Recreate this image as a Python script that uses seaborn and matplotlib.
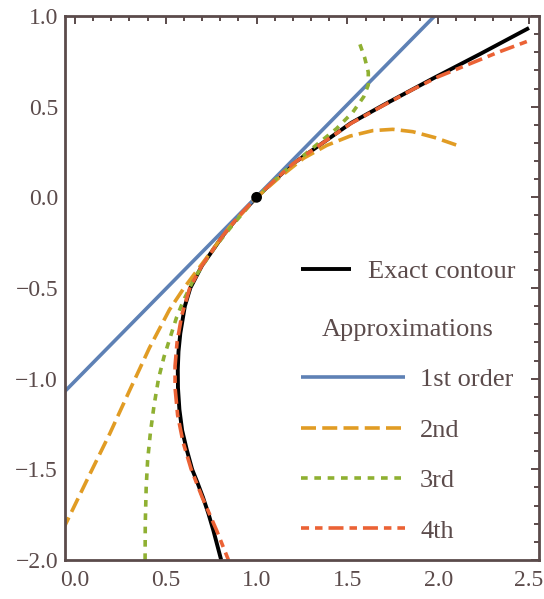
import numpy as np
import pandas as pd
import matplotlib
matplotlib.use("Agg")
import matplotlib.pyplot as plt
import seaborn as sns
from matplotlib.ticker import MultipleLocator

# =====================================================================
# DATA
# =====================================================================
# exact contour, traced from bottom branch up through (1, 0)
exact_x = [0.805, 0.762, 0.735, 0.705, 0.675, 0.645, 0.615, 0.59, 0.575, 0.567,
           0.566, 0.570, 0.580, 0.605, 0.635, 0.70, 0.76, 0.815, 0.905, 1.0,
           1.1, 1.2, 1.364, 1.52, 1.70, 1.97, 2.23, 2.50]
exact_y = [-2.0, -1.837, -1.745, -1.655, -1.575, -1.50, -1.39, -1.285, -1.17, -1.05,
           -0.95, -0.85, -0.75, -0.60, -0.50, -0.375, -0.29, -0.21, -0.10, 0.0,
           0.095, 0.185, 0.30, 0.41, 0.51, 0.655, 0.79, 0.934]

# 1st order (tangent line)
first_x = [-0.10, 2.0]
first_y = [-1.115, 1.02]

# 2nd order
second_x = [-0.07, 0.083, 0.193, 0.303, 0.41, 0.52, 0.60, 0.707, 0.85, 1.0,
            1.12, 1.258, 1.387, 1.515, 1.64, 1.75, 1.86, 1.98, 2.11]
second_y = [-1.84, -1.524, -1.30, -1.06, -0.83, -0.62, -0.50, -0.357, -0.165, 0.0,
            0.105, 0.215, 0.287, 0.338, 0.368, 0.375, 0.362, 0.33, 0.285]

# 3rd order
third_x = [0.386, 0.387, 0.392, 0.40, 0.415, 0.435, 0.46, 0.49, 0.525, 0.56,
           0.597, 0.655, 0.72, 0.771, 0.87, 1.0, 1.148, 1.30, 1.44, 1.53,
           1.59, 1.615, 1.615, 1.595, 1.565]
third_y = [-2.0, -1.8, -1.6, -1.45, -1.3, -1.15, -1.0, -0.88, -0.77, -0.66,
           -0.57, -0.45, -0.35, -0.274, -0.15, 0.0, 0.14, 0.265, 0.379, 0.47,
           0.555, 0.62, 0.69, 0.77, 0.855]

# 4th order
fourth_x = [0.845, 0.78, 0.70, 0.64, 0.595, 0.565, 0.551, 0.551, 0.562, 0.588,
            0.632, 0.70, 0.815, 0.905, 1.0, 1.1, 1.2, 1.364, 1.52, 1.70,
            1.86, 2.0, 2.176, 2.33, 2.49]
fourth_y = [-2.0, -1.837, -1.653, -1.50, -1.35, -1.2, -1.05, -0.93, -0.8, -0.65,
            -0.5, -0.375, -0.21, -0.10, 0.0, 0.095, 0.185, 0.30, 0.408, 0.508,
            0.595, 0.665, 0.737, 0.80, 0.86]

point_x = [1.0]
point_y = [0.0]

order_labels = ["1st order", "2nd", "3rd", "4th"]
x_ticks = [0.0, 0.5, 1.0, 1.5, 2.0, 2.5]
y_ticks = [-2.0, -1.5, -1.0, -0.5, 0.0, 0.5, 1.0]

# =====================================================================
# STYLE
# =====================================================================
sns.set_style("white")
frame_col = "#5b4b4b"
plt.rcParams["font.family"] = ["Liberation Serif", "DejaVu Serif"]
plt.rcParams["lines.scale_dashes"] = False
fs = 17      # tick labels
lfs = 19     # legend text

colors = ["#5e81b5", "#e19c24", "#8fb032", "#eb6235"]
styles = ["-", (0, (10.8, 4.5)), (0, (4.8, 4.8)), (5, (10.8, 4.3, 5.4, 4.3))]
lw = 2.6

fig = plt.figure(figsize=(5.44, 5.99), dpi=100)
ax = fig.add_axes([65 / 544, 39 / 599, 474 / 544, 544 / 599])

# exact contour first, approximations on top
sns.lineplot(x=exact_x, y=exact_y, ax=ax, sort=False, estimator=None,
             color="black", lw=2.8, solid_capstyle="butt")
exact_line = ax.lines[-1]

series = [(first_x, first_y), (second_x, second_y), (third_x, third_y), (fourth_x, fourth_y)]
approx_lines = []
for (sx, sy), c, ls in zip(series, colors, styles):
    sns.lineplot(x=sx, y=sy, ax=ax, sort=False, estimator=None,
                 color=c, lw=lw, linestyle=ls, solid_capstyle="butt")
    approx_lines.append(ax.lines[-1])

sns.scatterplot(x=point_x, y=point_y, ax=ax, color="black", s=60,
                edgecolor="none", zorder=5)

ax.set_xlim(-0.055, 2.555)
ax.set_ylim(-2.0, 1.0)
ax.set_xticks(x_ticks)
ax.set_yticks(y_ticks)
ax.set_xticklabels([f"{v:.1f}".replace("-", "\u2212") for v in x_ticks])
ax.set_yticklabels([f"{v:.1f}".replace("-", "\u2212") for v in y_ticks])
ax.xaxis.set_minor_locator(MultipleLocator(0.1))
ax.yaxis.set_minor_locator(MultipleLocator(0.1))
ax.tick_params(which="both", direction="in", top=True, right=True,
               color=frame_col, width=1.4, labelcolor=frame_col, labelsize=fs)
ax.tick_params(which="major", length=6)
ax.tick_params(which="minor", length=3.5)
ax.tick_params(axis="x", pad=7.5)
ax.tick_params(axis="y", pad=5)
for sp in ax.spines.values():
    sp.set_color(frame_col)
    sp.set_linewidth(2.0)
    sp.set_visible(True)

# legends
leg1 = ax.legend([exact_line], ["Exact contour"], loc="upper left",
                 bbox_to_anchor=(301 / 544, 1 - 260 / 599),
                 bbox_transform=fig.transFigure, frameon=False, fontsize=lfs,
                 handlelength=1.9, handletextpad=0.64, borderpad=0,
                 borderaxespad=0, labelcolor=frame_col)
ax.add_artist(leg1)
leg2 = ax.legend(approx_lines, order_labels, title="Approximations",
                 loc="upper left", bbox_to_anchor=(301 / 544, 1 - 319 / 599),
                 bbox_transform=fig.transFigure, frameon=False, fontsize=lfs,
                 title_fontsize=lfs, handlelength=3.94, handletextpad=0.57,
                 labelspacing=1.02, borderpad=0, borderaxespad=0,
                 labelcolor=frame_col)
leg2.get_title().set_color(frame_col)

plt.savefig("out.png", dpi=100)
